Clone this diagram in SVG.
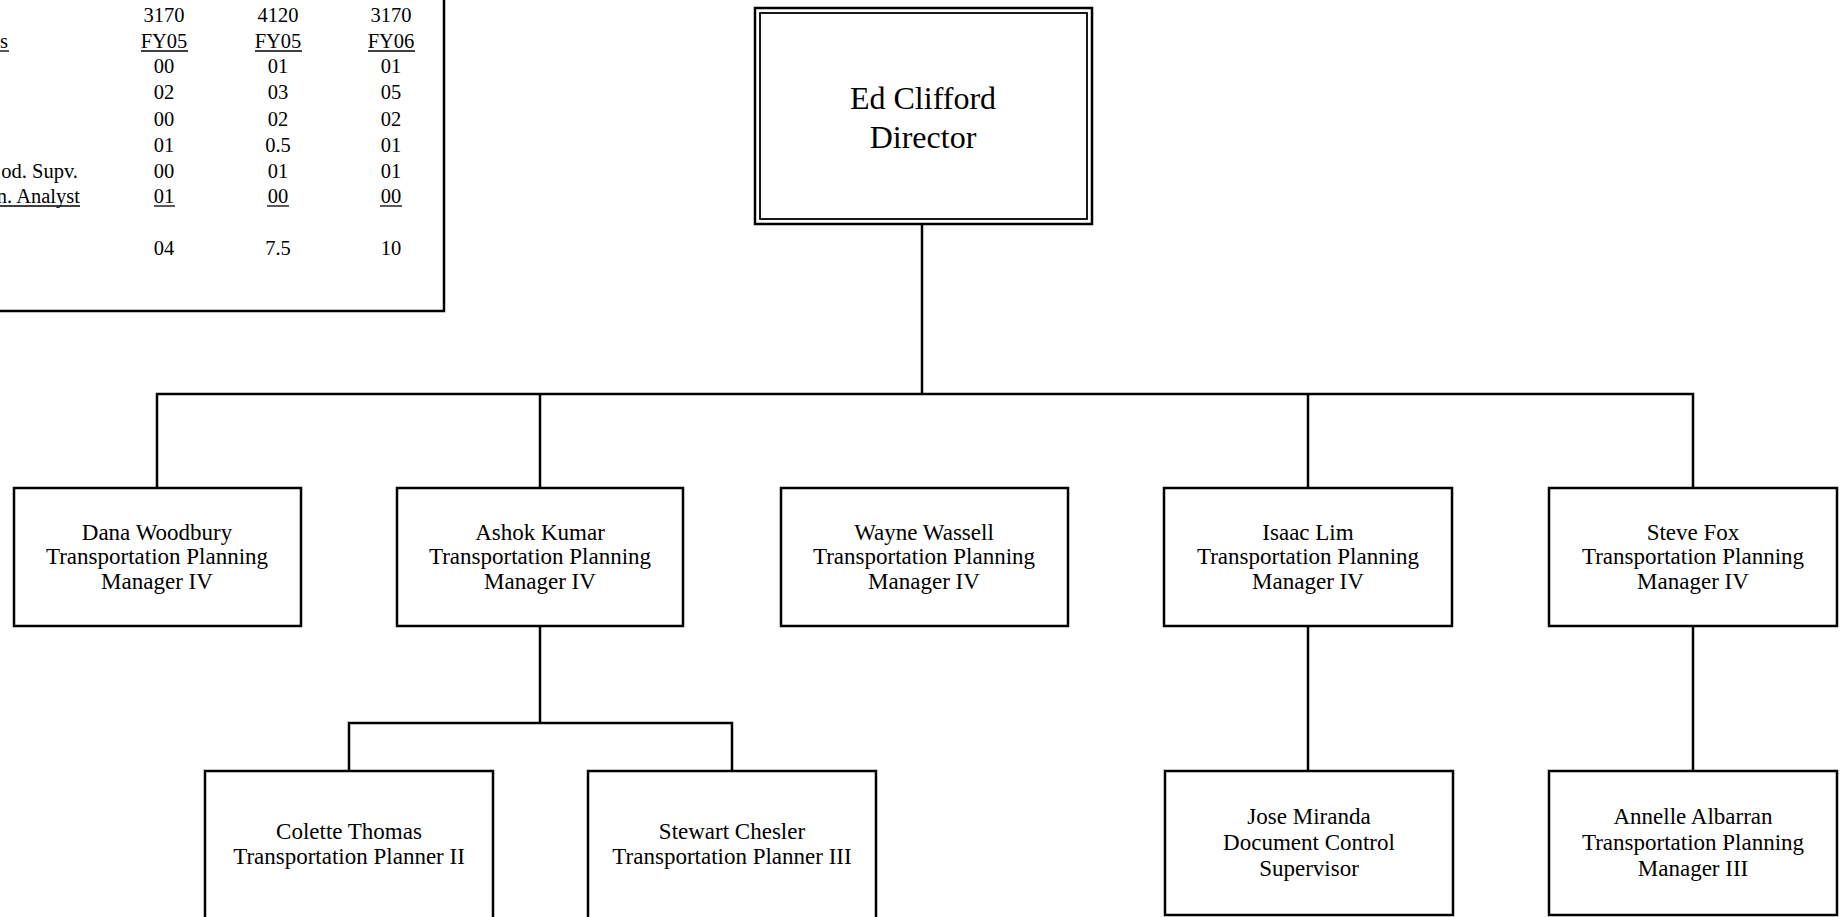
<svg xmlns="http://www.w3.org/2000/svg" width="1841" height="917" viewBox="0 0 1841 917">
<style>
.bg{fill:#fff}
.box{fill:#fff;stroke:#000;stroke-width:2.5}
.ln{stroke:#000;stroke-width:2.5;fill:none}
.ul{stroke:#000;stroke-width:1.3}
text{font-family:"Liberation Serif","DejaVu Serif",serif;fill:#000}
.t{font-size:20.5px}
.c{text-anchor:middle}
.n{font-size:23px;text-anchor:middle}
.d{font-size:32px;text-anchor:middle}
</style>
<rect class="bg" x="0" y="0" width="1841" height="917"/>
<g id="table">
<path class="ln" d="M444,-2 V311 H-2"/>
<text class="t" x="0" y="48">s</text>
<line class="ul" x1="0" y1="51" x2="9" y2="51"/>
<text class="t" x="78" y="178" text-anchor="end">od. Supv.</text>
<text class="t" x="80" y="203" text-anchor="end">n. Analyst</text>
<line class="ul" x1="0" y1="206" x2="80" y2="206"/>
<g class="t c">
<text x="164" y="22">3170</text><text x="278" y="22">4120</text><text x="391" y="22">3170</text>
<text x="164" y="48">FY05</text><text x="278" y="48">FY05</text><text x="391" y="48">FY06</text>
<text x="164" y="73">00</text><text x="278" y="73">01</text><text x="391" y="73">01</text>
<text x="164" y="99">02</text><text x="278" y="99">03</text><text x="391" y="99">05</text>
<text x="164" y="126">00</text><text x="278" y="126">02</text><text x="391" y="126">02</text>
<text x="164" y="152">01</text><text x="278" y="152">0.5</text><text x="391" y="152">01</text>
<text x="164" y="178">00</text><text x="278" y="178">01</text><text x="391" y="178">01</text>
<text x="164" y="203">01</text><text x="278" y="203">00</text><text x="391" y="203">00</text>
<text x="164" y="255">04</text><text x="278" y="255">7.5</text><text x="391" y="255">10</text>
</g>
<line class="ul" x1="141" y1="51" x2="188" y2="51"/>
<line class="ul" x1="255" y1="51" x2="302" y2="51"/>
<line class="ul" x1="368" y1="51" x2="415" y2="51"/>
<line class="ul" x1="154" y1="206" x2="175" y2="206"/>
<line class="ul" x1="267" y1="206" x2="289" y2="206"/>
<line class="ul" x1="380" y1="206" x2="402" y2="206"/>
</g>
<g id="connectors">
<path class="ln" d="M922,224 V394"/>
<path class="ln" d="M157,488 V394 H1693 V488"/>
<path class="ln" d="M540,394 V488"/>
<path class="ln" d="M1308,394 V488"/>
<path class="ln" d="M540,626 V723"/>
<path class="ln" d="M349,771 V723 H732 V771"/>
<path class="ln" d="M1308,626 V771"/>
<path class="ln" d="M1693,626 V771"/>
</g>
<g id="director">
<rect x="755" y="8" width="337" height="216" fill="#fff" stroke="#000" stroke-width="2.5"/>
<rect x="760" y="13" width="327" height="206" fill="none" stroke="#000" stroke-width="1.8"/>
<text class="d" x="923" y="109">Ed Clifford</text>
<text class="d" x="923" y="148">Director</text>
</g>
<g id="dana">
<rect class="box" x="14" y="488" width="287" height="138"/>
<text class="n" x="157" y="540">Dana Woodbury</text>
<text class="n" x="157" y="564">Transportation Planning</text>
<text class="n" x="157" y="589">Manager IV</text>
</g>
<g id="ashok">
<rect class="box" x="397" y="488" width="286" height="138"/>
<text class="n" x="540" y="540">Ashok Kumar</text>
<text class="n" x="540" y="564">Transportation Planning</text>
<text class="n" x="540" y="589">Manager IV</text>
</g>
<g id="wayne">
<rect class="box" x="781" y="488" width="287" height="138"/>
<text class="n" x="924" y="540">Wayne Wassell</text>
<text class="n" x="924" y="564">Transportation Planning</text>
<text class="n" x="924" y="589">Manager IV</text>
</g>
<g id="isaac">
<rect class="box" x="1164" y="488" width="288" height="138"/>
<text class="n" x="1308" y="540">Isaac Lim</text>
<text class="n" x="1308" y="564">Transportation Planning</text>
<text class="n" x="1308" y="589">Manager IV</text>
</g>
<g id="steve">
<rect class="box" x="1549" y="488" width="288" height="138"/>
<text class="n" x="1693" y="540">Steve Fox</text>
<text class="n" x="1693" y="564">Transportation Planning</text>
<text class="n" x="1693" y="589">Manager IV</text>
</g>
<g id="colette">
<rect class="box" x="205" y="771" width="288" height="160"/>
<text class="n" x="349" y="839">Colette Thomas</text>
<text class="n" x="349" y="864">Transportation Planner II</text>
</g>
<g id="stewart">
<rect class="box" x="588" y="771" width="288" height="160"/>
<text class="n" x="732" y="839">Stewart Chesler</text>
<text class="n" x="732" y="864">Transportation Planner III</text>
</g>
<g id="jose">
<rect class="box" x="1165" y="771" width="288" height="144"/>
<text class="n" x="1309" y="824">Jose Miranda</text>
<text class="n" x="1309" y="850">Document Control</text>
<text class="n" x="1309" y="876">Supervisor</text>
</g>
<g id="annelle">
<rect class="box" x="1549" y="771" width="288" height="144"/>
<text class="n" x="1693" y="824">Annelle Albarran</text>
<text class="n" x="1693" y="850">Transportation Planning</text>
<text class="n" x="1693" y="876">Manager III</text>
</g>
</svg>
